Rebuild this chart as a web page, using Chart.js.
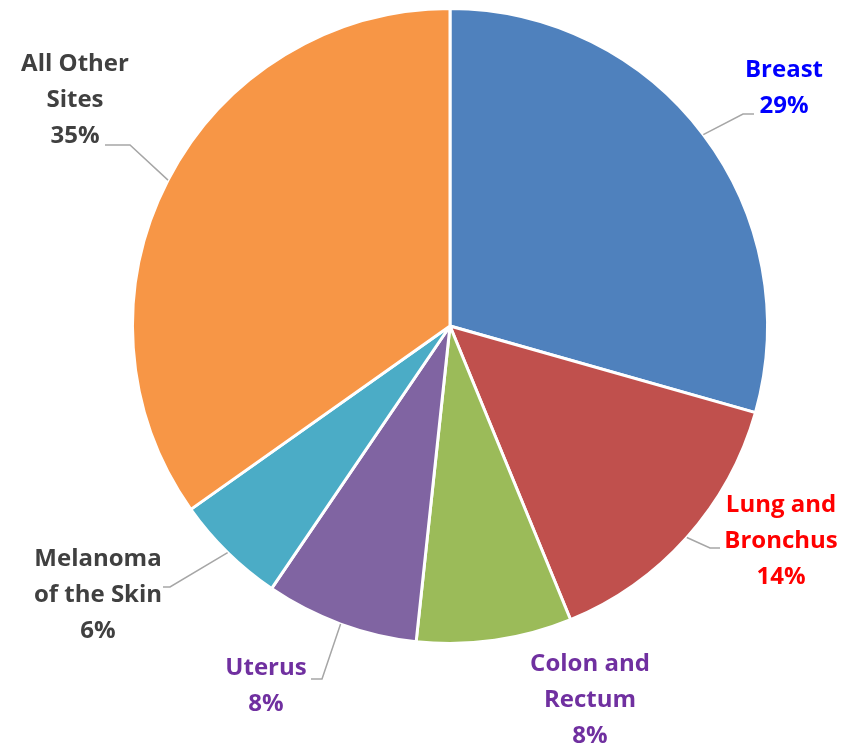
<!DOCTYPE html>
<html>
<head>
<meta charset="utf-8">
<script src="https://cdn.jsdelivr.net/npm/chart.js@4.4.0/dist/chart.umd.min.js"></script>
<style>
  html, body { margin: 0; padding: 0; background: #fff; }
  #wrap { width: 859px; height: 749px; position: relative; }
</style>
</head>
<body>
<div id="wrap"><canvas id="pie"></canvas></div>
<script>
// ---------- data ----------
const sites = ["Breast", "Lung and Bronchus", "Colon and Rectum", "Uterus", "Melanoma of the Skin", "All Other Sites"];
const shares = [29.4, 14.4, 7.9, 7.8, 5.7, 34.8];
const labelLines = [
  ["Breast"],
  ["Lung and", "Bronchus"],
  ["Colon and", "Rectum"],
  ["Uterus"],
  ["Melanoma", "of the Skin"],
  ["All Other", "Sites"]
];

// ---------- styles ----------
const sliceColors = ["#4F81BD", "#C0504D", "#9BBB59", "#8064A2", "#4BACC6", "#F79646"];
const textColors = ["#0000FF", "#FF0000", "#7030A0", "#7030A0", "#404040", "#404040"];
const FONT = "bold 24px 'Open Sans', Lato, sans-serif";
const LINE_H = 36;

// label placement (text center x, first line y) and leader elbow/end
const labelPos = [
  { x: 784, y: 70, elbow: [743, 114], end: [754, 114] },
  { x: 781, y: 505, elbow: [710, 548], end: [720, 548] },
  { x: 590, y: 664, elbow: null, end: null },
  { x: 266, y: 668, elbow: [322, 679], end: [311, 679] },
  { x: 98, y: 559, elbow: [170, 587], end: [163, 587] },
  { x: 75, y: 64, elbow: [130, 145], end: [105, 145] }
];

const total = shares.reduce((a, b) => a + b, 0);

const labelPlugin = {
  id: "sliceLabels",
  afterDraw(chart) {
    const ctx = chart.ctx;
    const meta = chart.getDatasetMeta(0);
    ctx.save();
    meta.data.forEach((arc, i) => {
      const p = arc.getProps(["x", "y", "startAngle", "endAngle", "outerRadius"], true);
      const mid = (p.startAngle + p.endAngle) / 2;
      const pos = labelPos[i];
      if (pos.elbow) {
        const sx = p.x + Math.cos(mid) * p.outerRadius;
        const sy = p.y + Math.sin(mid) * p.outerRadius;
        ctx.strokeStyle = "#A6A6A6";
        ctx.lineWidth = 1.5;
        ctx.beginPath();
        ctx.moveTo(sx, sy);
        ctx.lineTo(pos.elbow[0], pos.elbow[1]);
        ctx.lineTo(pos.end[0], pos.end[1]);
        ctx.stroke();
      }
      const lines = labelLines[i].concat([Math.round(shares[i] / total * 100) + "%"]);
      ctx.fillStyle = textColors[i];
      ctx.font = FONT;
      ctx.textAlign = "center";
      ctx.textBaseline = "middle";
      lines.forEach((t, k) => ctx.fillText(t, pos.x, pos.y + k * LINE_H));
    });
    ctx.restore();
  }
};

new Chart(document.getElementById("pie").getContext("2d"), {
  type: "pie",
  data: {
    labels: sites,
    datasets: [{
      data: shares,
      backgroundColor: sliceColors,
      borderColor: "#FFFFFF",
      borderWidth: 3
    }]
  },
  options: {
    responsive: true,
    maintainAspectRatio: false,
    animation: false,
    layout: { padding: { top: 7, bottom: 104, left: 131, right: 90 } },
    plugins: { legend: { display: false }, tooltip: { enabled: false } }
  },
  plugins: [labelPlugin]
});
</script>
</body>
</html>
